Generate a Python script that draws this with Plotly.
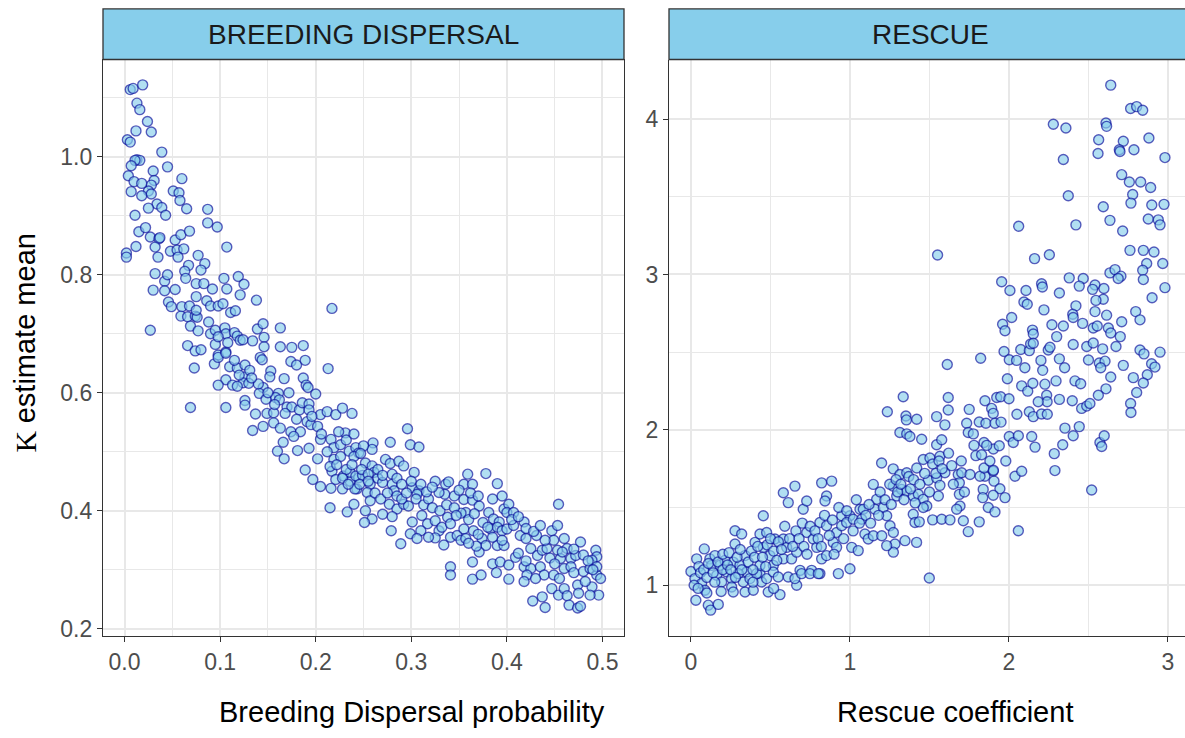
import plotly.graph_objects as go

# ---------------- DATA ----------------
bd_prob = [
    0.006, 0.009, 0.019, 0.013, 0.016, 0.024, 0.028, 0.012, 0.003, 0.006,
    0.039, 0.013, 0.016, 0.011, 0.045, 0.007, 0.030, 0.004, 0.060, 0.010,
    0.031, 0.028, 0.007, 0.025, 0.028, 0.018, 0.051, 0.057, 0.058, 0.065,
    0.034, 0.039, 0.025, 0.043, 0.011, 0.087, 0.087, 0.097, 0.015, 0.027,
    0.036, 0.037, 0.032, 0.053, 0.059, 0.068, 0.012, 0.002, 0.002, 0.048,
    0.055, 0.062, 0.056, 0.077, 0.084, 0.107, 0.067, 0.063, 0.064, 0.080,
    0.032, 0.042, 0.042, 0.030, 0.075, 0.083, 0.092, 0.104, 0.107, 0.119,
    0.125, 0.121, 0.075, 0.046, 0.049, 0.060, 0.068, 0.059, 0.066, 0.074,
    0.076, 0.086, 0.090, 0.098, 0.103, 0.138, 0.217, 0.111, 0.116, 0.069,
    0.077, 0.027, 0.090, 0.095, 0.105, 0.106, 0.115, 0.118, 0.121, 0.124,
    0.134, 0.139, 0.145, 0.163, 0.146, 0.146, 0.066, 0.074, 0.080, 0.095,
    0.098, 0.106, 0.163, 0.175, 0.187,
    0.073, 0.094, 0.098, 0.106, 0.110, 0.118, 0.126, 0.126, 0.131, 0.124,
    0.130, 0.106, 0.113, 0.118, 0.098, 0.142, 0.144, 0.153, 0.152, 0.167,
    0.174, 0.180, 0.189, 0.213, 0.187, 0.190, 0.192, 0.172, 0.161, 0.158,
    0.162, 0.145, 0.141, 0.148, 0.126, 0.126, 0.069, 0.106, 0.200, 0.170,
    0.175, 0.183, 0.186, 0.193, 0.193, 0.137, 0.149, 0.156, 0.134, 0.145,
    0.156, 0.163, 0.174, 0.184, 0.177, 0.166, 0.160, 0.167, 0.181, 0.193,
    0.202, 0.205, 0.212, 0.221, 0.228, 0.238, 0.231, 0.224, 0.191, 0.195,
    0.202, 0.205, 0.216, 0.219, 0.226, 0.189, 0.197, 0.205, 0.217, 0.221,
    0.229, 0.236, 0.245, 0.243, 0.228, 0.216, 0.219, 0.226, 0.235, 0.242,
    0.245,
    0.296, 0.299, 0.308, 0.278, 0.260, 0.259, 0.250, 0.240, 0.247, 0.273,
    0.278, 0.287, 0.292, 0.303, 0.252, 0.259, 0.261, 0.236, 0.242, 0.249,
    0.280, 0.280, 0.282, 0.257, 0.254, 0.257, 0.241, 0.240, 0.252, 0.259,
    0.251, 0.270, 0.277, 0.285, 0.292, 0.297, 0.301, 0.308, 0.306, 0.325,
    0.336, 0.339, 0.335, 0.329, 0.359, 0.355, 0.364, 0.378, 0.390, 0.355,
    0.364, 0.371, 0.357, 0.352, 0.301, 0.311, 0.317, 0.310, 0.299, 0.279,
    0.289, 0.306, 0.325, 0.329, 0.332, 0.338, 0.341, 0.325, 0.334, 0.341,
    0.348, 0.355, 0.365, 0.374, 0.378, 0.371, 0.352, 0.357, 0.368, 0.341,
    0.341, 0.364, 0.364, 0.373, 0.385, 0.389, 0.393, 0.402, 0.402, 0.409,
    0.381, 0.386, 0.392, 0.397, 0.402, 0.400, 0.407, 0.418, 0.383, 0.390,
    0.395, 0.400, 0.407, 0.414, 0.420, 0.390, 0.397, 0.412, 0.418, 0.425,
    0.421, 0.418, 0.431, 0.425, 0.432, 0.437, 0.442, 0.447, 0.453, 0.454,
    0.449, 0.453, 0.460, 0.463, 0.456, 0.467, 0.472, 0.477, 0.435, 0.439,
    0.449, 0.460, 0.467, 0.427, 0.437, 0.440, 0.447, 0.454, 0.460, 0.463,
    0.465, 0.474, 0.474, 0.477, 0.480, 0.487, 0.489, 0.494, 0.496, 0.487,
    0.493, 0.494, 0.489, 0.498, 0.494,
    0.215, 0.222, 0.232, 0.238, 0.248, 0.255, 0.265, 0.270, 0.262, 0.268,
    0.275, 0.285, 0.290, 0.295, 0.305, 0.313, 0.318, 0.322, 0.330, 0.337,
    0.345, 0.347, 0.360, 0.366, 0.375, 0.380, 0.232, 0.240, 0.212, 0.206,
    0.196, 0.180, 0.168, 0.157, 0.150, 0.140, 0.133, 0.120, 0.115, 0.108,
    0.098, 0.088, 0.075, 0.053, 0.045, 0.035, 0.022, 0.018, 0.228, 0.234,
    0.246, 0.255, 0.265, 0.270, 0.285, 0.290, 0.300, 0.310, 0.316, 0.322,
    0.345, 0.350, 0.362, 0.370, 0.385, 0.395, 0.405, 0.412, 0.420, 0.428,
    0.435, 0.440, 0.445, 0.450, 0.458, 0.470, 0.480, 0.485, 0.490, 0.470,
    0.482, 0.475, 0.455, 0.430, 0.420, 0.395, 0.385, 0.370, 0.360, 0.215,
    0.233, 0.318, 0.280,
]
bd_k = [
    1.114, 1.116, 1.122, 1.091, 1.080, 1.060, 1.042, 1.044, 1.029, 1.025,
    1.008, 0.995, 0.994, 0.994, 0.983, 0.985, 0.976, 0.968, 0.963, 0.958,
    0.960, 0.952, 0.941, 0.942, 0.937, 0.934, 0.942, 0.939, 0.926, 0.912,
    0.920, 0.914, 0.913, 0.901, 0.901, 0.911, 0.888, 0.881, 0.873, 0.864,
    0.861, 0.863, 0.847, 0.859, 0.868, 0.874, 0.848, 0.837, 0.830, 0.840,
    0.842, 0.844, 0.830, 0.833, 0.819, 0.847, 0.816, 0.806, 0.794, 0.808,
    0.802, 0.789, 0.773, 0.774, 0.785, 0.785, 0.776, 0.794, 0.776, 0.797,
    0.784, 0.766, 0.763, 0.754, 0.746, 0.746, 0.747, 0.730, 0.729, 0.730,
    0.728, 0.756, 0.747, 0.747, 0.751, 0.757, 0.743, 0.736, 0.739, 0.713,
    0.705, 0.706, 0.700, 0.706, 0.710, 0.700, 0.702, 0.696, 0.689, 0.690,
    0.688, 0.708, 0.717, 0.710, 0.694, 0.678, 0.680, 0.671, 0.673, 0.682,
    0.664, 0.669, 0.678, 0.677, 0.680,
    0.642, 0.649, 0.660, 0.667, 0.644, 0.642, 0.647, 0.627, 0.638, 0.617,
    0.616, 0.622, 0.613, 0.611, 0.613, 0.660, 0.656, 0.637, 0.627, 0.624,
    0.653, 0.647, 0.655, 0.641, 0.625, 0.613, 0.609, 0.600, 0.599, 0.592,
    0.588, 0.609, 0.599, 0.589, 0.587, 0.579, 0.575, 0.575, 0.598, 0.576,
    0.576, 0.571, 0.583, 0.581, 0.571, 0.564, 0.565, 0.566, 0.536, 0.543,
    0.549, 0.540, 0.534, 0.534, 0.526, 0.516, 0.501, 0.488, 0.502, 0.506,
    0.488, 0.563, 0.568, 0.563, 0.574, 0.565, 0.532, 0.534, 0.551, 0.546,
    0.543, 0.521, 0.521, 0.507, 0.512, 0.469, 0.453, 0.441, 0.467, 0.453,
    0.459, 0.450, 0.456, 0.437, 0.437, 0.438, 0.487, 0.492, 0.501, 0.507,
    0.498,
    0.539, 0.512, 0.508, 0.516, 0.515, 0.504, 0.510, 0.492, 0.497, 0.487,
    0.480, 0.484, 0.476, 0.465, 0.481, 0.476, 0.465, 0.465, 0.459, 0.460,
    0.462, 0.445, 0.434, 0.445, 0.431, 0.417, 0.437, 0.411, 0.400, 0.386,
    0.380, 0.394, 0.411, 0.403, 0.411, 0.408, 0.439, 0.434, 0.428, 0.450,
    0.445, 0.449, 0.428, 0.431, 0.462, 0.445, 0.445, 0.463, 0.446, 0.419,
    0.418, 0.408, 0.397, 0.396, 0.381, 0.392, 0.378, 0.366, 0.361, 0.366,
    0.344, 0.353, 0.383, 0.366, 0.372, 0.389, 0.378, 0.354, 0.342, 0.355,
    0.358, 0.369, 0.366, 0.353, 0.341, 0.330, 0.350, 0.353, 0.340, 0.305,
    0.291, 0.313, 0.284, 0.291, 0.310, 0.295, 0.313, 0.308, 0.284, 0.321,
    0.397, 0.386, 0.381, 0.403, 0.411, 0.397, 0.397, 0.381, 0.369, 0.372,
    0.366, 0.369, 0.375, 0.358, 0.353, 0.341, 0.341, 0.328, 0.305, 0.302,
    0.291, 0.280, 0.358, 0.336, 0.324, 0.333, 0.336, 0.366, 0.375, 0.411,
    0.350, 0.333, 0.353, 0.336, 0.319, 0.319, 0.324, 0.347, 0.305, 0.291,
    0.291, 0.302, 0.305, 0.247, 0.254, 0.236, 0.268, 0.257, 0.268, 0.256,
    0.240, 0.274, 0.235, 0.238, 0.297, 0.302, 0.271, 0.291, 0.257, 0.257,
    0.333, 0.322, 0.316, 0.285, 0.305,
    0.475, 0.478, 0.470, 0.478, 0.470, 0.462, 0.455, 0.448, 0.430, 0.420,
    0.430, 0.425, 0.420, 0.430, 0.420, 0.410, 0.420, 0.405, 0.400, 0.410,
    0.405, 0.392, 0.385, 0.395, 0.380, 0.372, 0.520, 0.530, 0.500, 0.530,
    0.560, 0.555, 0.565, 0.580, 0.600, 0.615, 0.625, 0.630, 0.655, 0.685,
    0.695, 0.720, 0.740, 0.775, 0.800, 0.830, 0.880, 0.955, 0.455, 0.445,
    0.445, 0.450, 0.470, 0.460, 0.455, 0.445, 0.450, 0.445, 0.432, 0.440,
    0.425, 0.435, 0.430, 0.425, 0.420, 0.425, 0.385, 0.390, 0.370, 0.365,
    0.375, 0.350, 0.320, 0.310, 0.330, 0.335, 0.325, 0.315, 0.300, 0.295,
    0.280, 0.260, 0.285, 0.285, 0.315, 0.350, 0.355, 0.360, 0.345, 0.405,
    0.398, 0.355, 0.390,
]

rescue_coef = [
    2.640, 2.765, 2.803, 2.841, 2.279, 2.358, 2.610, 2.614, 2.564, 2.560,
    2.719, 2.694, 2.698, 2.786, 2.880, 2.981, 2.342, 2.709, 2.757, 2.828,
    2.891, 2.373, 2.778, 2.767, 2.593, 2.635, 2.715, 2.898, 2.975, 2.876,
    2.939, 2.950, 2.061, 2.421, 1.551, 2.161, 2.254, 2.761, 2.845, 2.912,
    2.866, 2.967, 2.841, 2.635, 2.667, 2.704, 2.687, 2.845, 2.981, 1.954,
    2.006, 2.107, 2.205, 2.210, 2.379, 2.467, 2.442, 2.541, 2.526, 2.597,
    2.317, 2.094, 2.115, 2.220, 2.421, 2.401, 2.404, 2.541, 2.593, 2.547,
    2.614, 2.797, 2.824, 2.709, 2.017, 1.960, 1.975, 2.270, 2.342, 2.463,
    2.530, 2.555, 2.625, 2.640, 2.148, 2.153,
    1.969, 2.002, 2.048, 2.074, 2.128, 2.136, 2.153, 2.201, 2.212, 2.247,
    2.317, 2.258, 2.404, 2.489, 2.530, 2.589, 2.673, 2.824, 2.849, 2.897,
    2.918, 2.870, 2.845, 2.568, 2.604, 2.577, 2.719, 2.640, 2.782, 1.612,
    1.822, 1.990, 2.080, 2.118, 2.226, 2.296, 2.415, 2.451, 2.610, 2.562,
    2.803, 2.765, 2.767, 2.237, 2.240, 2.184, 2.317, 2.398, 2.128, 2.153,
    2.205, 2.241, 2.457, 2.489, 2.509, 1.335, 1.235, 1.352, 1.355, 1.420,
    1.545, 1.597, 1.618, 1.618, 1.750, 1.849, 1.891, 1.901, 1.923, 1.948,
    1.734, 1.813, 1.855, 1.912, 1.314, 1.357, 1.377, 1.451, 1.744, 1.776,
    1.843, 1.902, 1.939, 2.002, 2.027, 2.059, 2.143, 2.164, 2.285, 2.338,
    2.404, 2.442, 2.352, 2.289, 2.520, 2.572, 2.599, 2.583, 2.059, 1.792,
    1.828, 1.901, 1.849, 1.906, 1.943, 1.838, 1.835, 1.901, 1.975, 1.870,
    1.912, 2.038, 2.080, 1.199, 1.272, 1.314, 1.357, 1.420, 1.461, 1.503,
    1.545, 1.577, 1.566, 1.597, 1.640, 1.681, 1.703, 1.755, 1.818, 1.843,
    1.902, 1.147, 1.272, 1.294, 1.325, 1.357, 1.398, 1.430, 1.461, 1.493,
    1.545, 1.566, 1.556, 1.483, 1.461, 1.398, 1.409, 1.436, 1.520, 1.577,
    1.629, 1.688, 1.688, 1.692, 1.671, 1.713, 1.744, 1.813, 1.499,
    0.000, 0.025, 0.036, 0.084, 0.119, 0.130, 0.067, 0.088, 0.031, 0.109,
    0.124, 0.172, 0.182, 0.225, 0.256, 0.266, 0.308, 0.340, 0.350, 0.340,
    0.392, 0.277, 0.319, 0.277, 0.403, 0.434, 0.476, 0.455, 0.497, 0.518,
    0.434, 0.444, 0.486, 0.560, 0.528, 0.581, 0.602, 0.581, 0.633, 0.455,
    0.581, 0.612, 0.654, 0.706, 0.728, 0.665, 0.686, 0.665, 0.728, 0.769,
    0.791, 0.759, 0.811, 0.822, 0.853, 0.895, 0.822, 0.885, 0.853, 0.843,
    0.811, 0.853, 0.916, 0.948, 0.916, 0.927, 1.000, 1.011, 1.052, 0.948,
    1.000, 0.979, 1.021, 1.063, 1.084, 1.074, 1.094, 1.115, 1.147, 1.168,
    1.157, 1.210, 1.231, 1.252, 1.273, 1.283, 1.273, 1.231, 1.200, 1.346,
    1.419, 0.151, 0.214, 0.298, 0.329, 0.162, 0.193, 0.256, 0.266, 0.371,
    0.413, 0.434, 0.476, 0.518, 0.549, 0.612, 0.654, 0.696, 0.748, 0.801,
    0.050, 0.060, 0.080, 0.100, 0.110, 0.140, 0.150, 0.170, 0.200, 0.200,
    0.230, 0.240, 0.250, 0.280, 0.290, 0.310, 0.320, 0.360, 0.380, 0.390,
    0.400, 0.420, 0.450, 0.470, 0.480, 0.500, 0.520, 0.540, 0.550, 0.570,
    0.590, 0.620, 0.640, 0.660, 0.680, 0.700, 0.710, 0.730, 0.750, 0.780,
    0.800, 0.820, 0.840, 0.870, 0.890, 0.900, 0.930, 0.960, 0.980, 1.020,
    1.040, 1.060, 1.100, 1.120, 1.130, 1.180, 1.190, 1.220, 1.250, 1.260,
    1.290, 1.300, 1.320, 1.340, 1.370, 1.380, 1.400, 1.410, 1.440, 1.470,
    1.500, 1.520, 1.540, 1.560, 1.580, 1.620, 1.650, 1.700, 1.720, 1.780,
    1.860, 1.880, 1.950, 1.980, 2.000, 2.050, 2.100, 2.150, 2.300, 2.350,
    2.500, 2.700, 2.900, 2.950, 0.020, 0.045, 0.100, 0.190, 0.390, 0.520,
]
rescue_k = [
    4.218, 4.068, 4.080, 4.057, 3.966, 3.942, 3.974, 3.953, 3.867, 3.778,
    3.857, 3.802, 3.791, 3.802, 3.878, 3.752, 3.740, 3.642, 3.595, 3.595,
    3.559, 3.506, 3.514, 3.459, 3.436, 3.348, 3.280, 3.447, 3.451, 3.357,
    3.351, 3.319, 3.310, 3.319, 3.125, 3.102, 3.127, 3.155, 3.155, 3.144,
    3.070, 3.070, 3.027, 3.010, 3.031, 2.989, 2.974, 2.967, 2.915, 2.953,
    2.897, 2.897, 2.940, 2.919, 2.978, 2.974, 2.925, 2.932, 2.904, 2.910,
    2.881, 2.823, 2.808, 2.772, 2.798, 2.744, 2.723, 2.761, 2.840, 2.833,
    2.738, 2.761, 2.708, 2.696, 2.723, 2.680, 2.638, 2.676, 2.668, 2.685,
    2.655, 2.668, 2.655, 2.623, 2.642, 2.617,
    2.504, 2.451, 2.447, 2.517, 2.510, 2.553, 2.557, 2.447, 2.383, 2.514,
    2.457, 2.532, 2.549, 2.536, 2.559, 2.521, 2.536, 2.514, 2.489, 2.425,
    2.404, 2.355, 2.302, 2.430, 2.442, 2.400, 2.415, 2.340, 2.336, 2.421,
    2.461, 2.329, 2.283, 2.249, 2.294, 2.315, 2.315, 2.297, 2.264, 2.223,
    2.240, 2.170, 2.112, 2.223, 2.181, 2.181, 2.196, 2.187, 2.117, 2.085,
    2.102, 2.100, 2.138, 2.153, 2.170, 2.213, 2.117, 2.089, 2.064, 2.068,
    2.085, 2.032, 2.208, 2.128, 2.132, 2.187, 2.138, 2.106, 2.208, 2.213,
    2.043, 2.051, 2.043, 2.043, 1.983, 1.974, 1.957, 1.940, 1.983, 1.974,
    1.919, 1.877, 1.898, 1.957, 1.919, 1.962, 1.957, 1.889, 1.847, 1.904,
    1.962, 2.021, 2.011, 1.738, 1.613, 1.919, 1.962, 1.893, 1.351, 1.834,
    1.840, 1.734, 1.702, 1.670, 1.621, 1.617, 1.564, 1.579, 1.564, 1.500,
    1.472, 1.702, 1.734, 1.787, 1.749, 1.713, 1.724, 1.755, 1.809, 1.819,
    1.904, 1.936, 1.830, 1.724, 1.770, 1.713, 1.724, 1.713, 1.702, 1.755,
    1.740, 1.649, 1.638, 1.574, 1.617, 1.606, 1.574, 1.585, 1.553, 1.676,
    1.691, 1.643, 1.574, 1.510, 1.500, 1.457, 1.404, 1.408, 1.421, 1.425,
    1.421, 1.659, 1.585, 1.510, 1.489, 1.415, 1.345, 1.408, 1.047,
    1.089, 1.043, 1.170, 1.234, 1.170, 1.128, 1.011, 0.968, 0.904, 0.872,
    0.840, 0.877, 1.128, 1.085, 1.043, 1.149, 1.128, 1.191, 1.085, 0.957,
    0.968, 1.351, 1.330, 1.266, 1.276, 1.330, 1.340, 1.244, 1.191, 1.128,
    1.075, 1.021, 0.957, 0.940, 1.298, 1.298, 1.244, 1.170, 1.170, 1.447,
    1.595, 1.532, 1.638, 1.489, 1.542, 1.213, 1.096, 1.000, 1.340, 1.298,
    1.244, 1.096, 1.075, 1.170, 1.191, 1.276, 1.659, 1.670, 1.574, 1.542,
    1.404, 1.383, 1.340, 1.383, 1.244, 1.075, 1.106, 1.244, 1.223, 1.447,
    1.447, 1.404, 1.425, 1.489, 1.489, 1.425, 1.330, 1.298, 1.319, 1.553,
    1.489, 1.500, 1.447, 1.383, 1.340, 1.266, 1.213, 1.255, 1.319, 1.287,
    1.276, 1.191, 1.160, 1.075, 1.021, 1.064, 1.021, 0.989, 0.957, 1.043,
    1.075, 1.128, 1.043, 1.085, 1.053, 1.053, 1.043, 1.075, 1.075, 1.075,
    1.120, 1.080, 1.100, 1.050, 1.140, 1.080, 1.020, 1.150, 1.100, 1.200,
    1.130, 1.210, 1.100, 1.050, 1.180, 1.230, 1.100, 1.150, 1.220, 1.100,
    1.180, 1.250, 1.180, 1.120, 1.260, 1.300, 1.220, 1.160, 1.280, 1.230,
    1.380, 1.300, 1.250, 1.350, 1.300, 1.400, 1.250, 1.200, 1.380, 1.350,
    1.300, 1.250, 1.450, 1.320, 1.420, 1.200, 1.500, 1.300, 1.480, 1.350,
    1.550, 1.400, 1.450, 1.520, 1.400, 1.450, 1.600, 1.550, 1.650, 1.520,
    1.680, 1.600, 1.650, 1.550, 1.700, 1.620, 1.680, 1.530, 1.650, 1.720,
    1.600, 1.780, 1.720, 1.800, 1.750, 1.850, 1.650, 1.800, 1.600, 1.900,
    1.900, 1.800, 2.050, 1.800, 2.200, 2.100, 2.400, 2.300, 2.600, 2.400,
    2.450, 2.600, 2.850, 2.500, 1.000, 0.980, 0.950, 0.960, 1.020, 0.980,
]

bd_x_ticks = [0.0, 0.1, 0.2, 0.3, 0.4, 0.5]
bd_y_ticks = [0.2, 0.4, 0.6, 0.8, 1.0]
rs_x_ticks = [0, 1, 2, 3]
rs_y_ticks = [1, 2, 3, 4]

# ---------------- STYLE ----------------
W, H = 1185, 738
FONT = "Liberation Sans"
GRID = "#E8E8E8"
BORDER = "#333333"
TICKCOL = "#4D4D4D"
FILL = "rgba(135,206,235,0.65)"
EDGE = "rgba(0,0,150,0.62)"


def px(x):
    return x / W


def py(y):
    return 1 - y / H


panel_top, panel_bot = 60, 641
strip_top = 9
L_x0, L_x1 = 103, 624
R_x0, R_x1 = 669, 1185

marker = dict(size=10, color=FILL, line=dict(color=EDGE, width=1.4))

fig = go.Figure()
fig.add_trace(go.Scatter(x=bd_prob, y=bd_k, mode="markers", marker=marker,
                         xaxis="x", yaxis="y", showlegend=False))
fig.add_trace(go.Scatter(x=rescue_coef, y=rescue_k, mode="markers", marker=marker,
                         xaxis="x2", yaxis="y2", showlegend=False))

tickfont = dict(family=FONT, size=23, color=TICKCOL)


def axis_common(**kw):
    d = dict(showgrid=True, gridcolor=GRID, gridwidth=1.7, zeroline=False,
             showline=True, linecolor=BORDER, linewidth=1.3,
             ticks="outside", ticklen=5, tickwidth=1.3, tickcolor=BORDER,
             tickfont=tickfont)
    d.update(kw)
    return d


minor_style = dict(showgrid=True, gridcolor=GRID, gridwidth=1.0, ticklen=0)

fig.update_layout(
    width=W, height=H, margin=dict(l=0, r=0, t=0, b=0),
    paper_bgcolor="white", plot_bgcolor="white",
    xaxis=axis_common(domain=[px(L_x0), px(L_x1)], range=[-0.0225, 0.5225],
                      tickvals=bd_x_ticks, ticktext=[f"{v:.1f}" for v in bd_x_ticks],
                      mirror=True, anchor="y",
                      minor=dict(dtick=0.05, tick0=0, **minor_style)),
    yaxis=axis_common(domain=[py(panel_bot), py(panel_top)], range=[0.188, 1.165],
                      tickvals=bd_y_ticks, ticktext=[f"{v:.1f}" for v in bd_y_ticks],
                      mirror=True, anchor="x",
                      minor=dict(dtick=0.1, tick0=0.2, **minor_style)),
    xaxis2=axis_common(domain=[px(R_x0), 1.0], range=[-0.138, 3.107],
                       tickvals=rs_x_ticks, ticktext=[str(v) for v in rs_x_ticks],
                       mirror=False, anchor="y2",
                       minor=dict(dtick=0.5, tick0=0, **minor_style)),
    yaxis2=axis_common(domain=[py(panel_bot), py(panel_top)], range=[0.675, 4.383],
                       tickvals=rs_y_ticks, ticktext=[str(v) for v in rs_y_ticks],
                       mirror=False, anchor="x2",
                       minor=dict(dtick=0.5, tick0=0, **minor_style)),
)

# facet strips
shapes = [
    dict(type="rect", xref="paper", yref="paper",
         x0=px(L_x0), x1=px(L_x1), y0=py(panel_top), y1=py(strip_top),
         fillcolor="#87CEEB", line=dict(color=BORDER, width=1.3), layer="above"),
    dict(type="rect", xref="paper", yref="paper",
         x0=px(R_x0), x1=px(R_x1 + 20), y0=py(panel_top), y1=py(strip_top),
         fillcolor="#87CEEB", line=dict(color=BORDER, width=1.3), layer="above"),
]
fig.update_layout(shapes=shapes)

ann = [
    dict(text="BREEDING DISPERSAL", x=px((L_x0 + L_x1) / 2), y=py((strip_top + panel_top) / 2),
         xref="paper", yref="paper", showarrow=False, xanchor="center", yanchor="middle",
         font=dict(family=FONT, size=28, color="#1A1A1A")),
    dict(text="RESCUE", x=px(930), y=py((strip_top + panel_top) / 2),
         xref="paper", yref="paper", showarrow=False, xanchor="center", yanchor="middle",
         font=dict(family=FONT, size=28, color="#1A1A1A")),
    dict(text="Breeding Dispersal probability", x=px(412), y=py(718),
         xref="paper", yref="paper", showarrow=False, xanchor="center", yanchor="middle",
         font=dict(family=FONT, size=29, color="black")),
    dict(text="Rescue coefficient", x=px(955), y=py(718),
         xref="paper", yref="paper", showarrow=False, xanchor="center", yanchor="middle",
         font=dict(family=FONT, size=29, color="black")),
    # y-axis title: serif "K" followed by sans text
    dict(text="estimate mean", x=px(25), y=py(331), textangle=-90,
         xref="paper", yref="paper", showarrow=False, xanchor="center", yanchor="middle",
         font=dict(family=FONT, size=29, color="black")),
    dict(text="K", x=px(25), y=py(445), textangle=-90,
         xref="paper", yref="paper", showarrow=False, xanchor="center", yanchor="middle",
         font=dict(family="Liberation Serif", size=30, color="black")),
]
fig.update_layout(annotations=ann)

fig.write_html("out.html")
